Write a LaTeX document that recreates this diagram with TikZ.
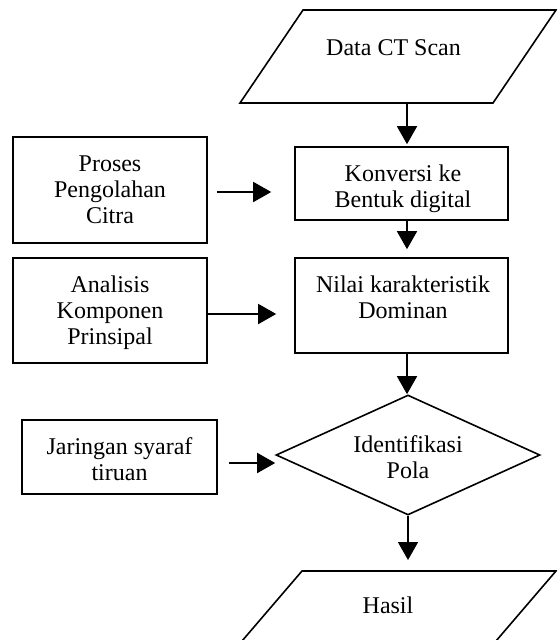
\documentclass[tikz,border=0pt]{standalone}
\usepackage{fontspec}
\setmainfont{Liberation Serif}
\usetikzlibrary{arrows.meta,shapes.geometric}

\begin{document}
\begin{tikzpicture}[x=1pt, y=-1pt, line join=miter,
        box/.style={draw, line width=1.6pt, rectangle, inner sep=0pt},
        dmd/.style={draw, line width=1.6pt, diamond, inner sep=0pt},
        io/.style={draw, line width=1.6pt},
        txt/.style={align=center, inner sep=0pt, font=\fontsize{24}{26}\selectfont},
        arr/.style={line width=1.6pt, -{Triangle[length=18pt, width=20pt]}}]

            \useasboundingbox (0,0) rectangle (557,640);
            \clip (0,0) rectangle (557,640);

            % input / output
            \draw[io] (303,10) -- (556,10) -- (493,103) -- (240,103) -- cycle;
            \node[txt, anchor=base] (dataText) at (393.5,55) {Data CT Scan};
            \coordinate (dataS) at (407,103);

            \draw[io] (302,571) -- (556,571) -- (490,648) -- (236,648) -- cycle;
            \node[txt, anchor=base] (hasilText) at (388,613) {Hasil};
            \coordinate (hasilN) at (408,571);

            % main column
            \node[box, minimum width=213, minimum height=73] (konversi) at (401.5,183.5) {};
            \node[txt] (konversiText) at (403,189) {Konversi ke\\Bentuk digital};

            \node[box, minimum width=213, minimum height=95] (nilai) at (401.5,305.5) {};
            \node[txt] (nilaiText) at (403,297) {Nilai karakteristik\\Dominan};

            \node[dmd, minimum width=264, minimum height=120] (pola) at (408,455) {};
            \node[txt] (polaText) at (408,457) {Identifikasi\\Pola};

            % side boxes
            \node[box, minimum width=194, minimum height=106] (proses) at (110,190) {};
            \node[txt] (prosesText) at (110,190) {Proses\\Pengolahan\\Citra};

            \node[box, minimum width=194, minimum height=105] (analisis) at (110,310.5) {};
            \node[txt] (analisisText) at (110,313) {Analisis\\Komponen\\Prinsipal};

            \node[box, minimum width=195, minimum height=74] (jaringan) at (119.5,457) {};
            \node[txt] (jaringanText) at (119.5,459) {Jaringan syaraf\\tiruan};

            \draw[arr, shorten >=2pt] (dataS) -- (konversi.north -| dataS);
            \draw[arr, shorten >=8pt] (konversi.south -| dataS) -- (nilai.north -| dataS);
            \draw[arr] (nilai.south -| dataS) -- (pola.north -| dataS);
            \draw[arr, shorten >=11pt] (pola.south) -- (hasilN);

            \draw[arr, shorten <=9pt, shorten >=23pt] ([yshift=-2pt]proses.east) -- ([yshift=-2pt]proses.east -| konversi.west);
            \draw[arr, shorten >=18pt] ([yshift=-3.5pt]analisis.east) -- ([yshift=-3.5pt]analisis.east -| nilai.west);
            \draw[arr, shorten <=11pt] ([yshift=-6pt]jaringan.east) -- ([yshift=-6pt]jaringan.east -| pola.west);

\end{tikzpicture}
\end{document}
